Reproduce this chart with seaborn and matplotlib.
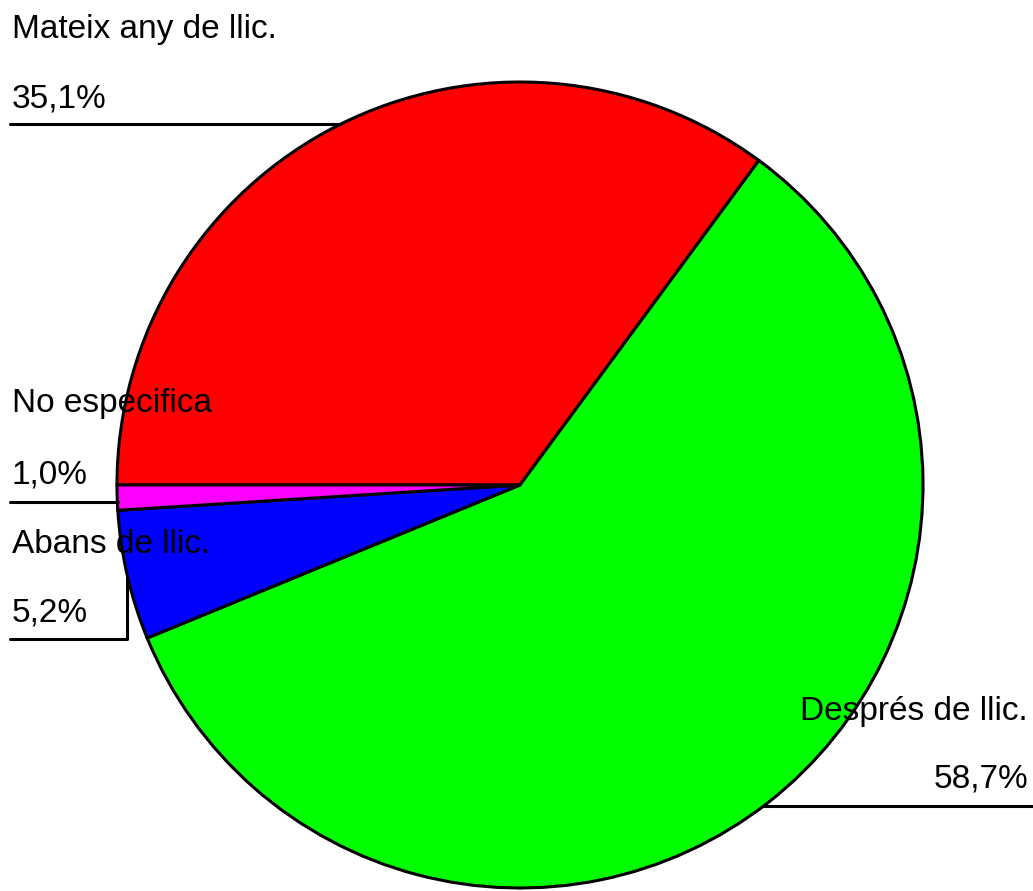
import numpy as np
import seaborn as sns
import matplotlib
matplotlib.use('Agg')
import matplotlib.pyplot as plt

# slice data (clockwise from 9 o'clock)
labels = ['Mateix any de llic.', 'Després de llic.', 'Abans de llic.', 'No especifica']
values = [35.1, 58.7, 5.2, 1.0]
pct_text = ['35,1%', '58,7%', '5,2%', '1,0%']
colors = ['#ff0000', '#00ff00', '#0000ff', '#ff00ff']

sns.set_style('white')
plt.rcParams['font.family'] = ['Liberation Sans', 'DejaVu Sans']
plt.rcParams['text.color'] = 'black'

W, H = 1033, 891
fig = plt.figure(figsize=(W / 100, H / 100), dpi=100)
ax = fig.add_axes([0, 0, 1, 1])
ax.set_xlim(0, W)
ax.set_ylim(0, H)
ax.set_aspect('equal')
ax.axis('off')

cx, cy, r = 520, H - 485, 403
ax.pie(values, colors=colors, startangle=180, counterclock=False,
       center=(cx, cy), radius=r,
       wedgeprops=dict(edgecolor='black', linewidth=2.2))
ax.set_xlim(0, W)
ax.set_ylim(0, H)

fs = 24
def py(y):
    return H - y

def label(x, y, s, ha='left'):
    ax.text(x, py(y), s, fontsize=fs, va='baseline', ha=ha, color='black', zorder=5)

# Mateix any de llic.
label(12, 38, labels[0])
label(12, 107, pct_text[0])
yl = 124
xe = cx - np.sqrt(r**2 - (cy - py(yl))**2)
ax.plot([10, xe], [py(yl), py(yl)], color='black', lw=2.2)

# No especifica
label(12, 412, labels[3])
label(12, 484, pct_text[3])
ax.plot([10, 118], [py(502), py(502)], color='black', lw=2.2)

# Abans de llic.
label(12, 553, labels[2])
label(12, 622, pct_text[2])
ax.plot([10, 127, 127], [py(639), py(639), py(577)], color='black', lw=2.2)

# Després de llic.
label(1028, 720, labels[1], ha='right')
label(1028, 788, pct_text[1], ha='right')
yl = 806
xs = cx + np.sqrt(r**2 - (cy - py(yl))**2)
ax.plot([xs, W], [py(yl), py(yl)], color='black', lw=2.2)

fig.savefig('out.png', dpi=100, facecolor='white')
